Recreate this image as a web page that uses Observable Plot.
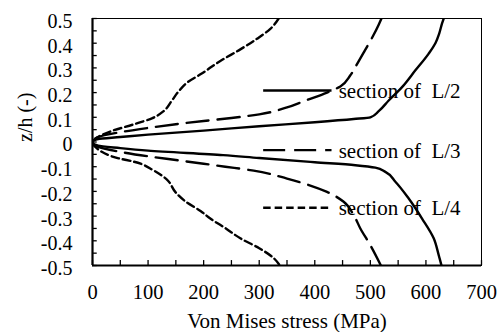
<!DOCTYPE html>
<html><head><meta charset="utf-8">
<script src="https://cdn.jsdelivr.net/npm/d3@7"></script>
<script src="https://cdn.jsdelivr.net/npm/@observablehq/plot@0.6"></script>
<style>
body{margin:0;background:#fff}
#chart svg{display:block}
#chart svg text{font-family:"Liberation Serif","Times New Roman",serif !important;fill:#000}
</style>
</head><body><div id="chart"></div>
<script>
// tick labels
const xTicks = [0, 100, 200, 300, 400, 500, 600, 700];
const yTicks = [-0.5, -0.4, -0.3, -0.2, -0.1, 0, 0.1, 0.2, 0.3, 0.4, 0.5];

// section of L/2 (solid)
const l2Stress = [632, 629, 624, 617, 605, 581, 557, 533, 515, 500, 470, 400, 300, 200, 100, 50, 10, 0, 10, 50, 100, 235, 300, 400, 473, 509, 527, 545, 569, 593, 614, 623, 628];
const l2Z = [0.5, 0.48, 0.44, 0.40, 0.358, 0.29, 0.222, 0.168, 0.125, 0.1, 0.093, 0.08, 0.064, 0.046, 0.03, 0.02, 0.012, 0, -0.015, -0.025, -0.035, -0.053, -0.065, -0.082, -0.094, -0.104, -0.121, -0.161, -0.229, -0.31, -0.39, -0.458, -0.5];

// section of L/3 (long dash)
const l3Stress = [520, 515, 505, 490, 476, 464, 446, 422, 380, 350, 300, 250, 200, 150, 100, 50, 10, 0, 10, 50, 100, 150, 200, 239, 290, 350, 422, 452, 470, 482, 500, 519];
const l3Z = [0.5, 0.475, 0.43, 0.37, 0.315, 0.27, 0.225, 0.2, 0.165, 0.14, 0.112, 0.097, 0.085, 0.072, 0.057, 0.04, 0.02, 0, -0.02, -0.04, -0.058, -0.073, -0.088, -0.1, -0.116, -0.148, -0.202, -0.242, -0.296, -0.35, -0.418, -0.5];

// section of L/4 (short dash)
const l4Stress = [335, 320, 296, 266, 230, 195, 170, 155, 142, 128, 108, 75, 35, 5, 0, 10, 47, 75, 110, 133, 150, 168, 195, 212, 240, 266, 300, 326, 337];
const l4Z = [0.5, 0.458, 0.418, 0.375, 0.328, 0.275, 0.24, 0.205, 0.165, 0.125, 0.097, 0.072, 0.045, 0.013, 0, -0.03, -0.066, -0.08, -0.115, -0.15, -0.205, -0.242, -0.28, -0.31, -0.35, -0.39, -0.43, -0.47, -0.5];

const sectionLabels = ["section of\u00a0 L/2", "section of\u00a0 L/3", "section of\u00a0 L/4"];
const xTitle = "Von Mises stress (MPa)";
const yTitle = "z/h (-)";

const FONT = "'Liberation Serif', 'Times New Roman', serif";
const dashes = [null, "22,9", "7.5,4"];
const series = [[l2Stress, l2Z], [l3Stress, l3Z], [l4Stress, l4Z]]
  .map(([s, z]) => s.map((v, i) => ({s: v, z: z[i]})));

// legend layout (inside plot area)
const legendY = [0.2085, -0.033, -0.266];
const legendX1 = 308, legendX2 = 431, legendTextX = 443;

const W = 498, H = 332;
const marks = [];
// inward ticks
marks.push(Plot.ruleY(d3.range(-0.5, 0.5001, 0.05), {y: d => d, x1: 0, x2: 8.5, stroke: "#000", strokeWidth: 1.3}));
marks.push(Plot.ruleX(d3.range(0, 701, 50), {x: d => d, y1: -0.5, y2: -0.48, stroke: "#000", strokeWidth: 1.3}));
marks.push(Plot.frame({stroke: "#000", strokeWidth: 1}));
marks.push(Plot.ruleX([0], {stroke: "#000", strokeWidth: 2.2}));
marks.push(Plot.ruleY([-0.5], {stroke: "#000", strokeWidth: 2.2}));
series.forEach((data, i) => {
  marks.push(Plot.line(data, {x: "s", y: "z", stroke: "#000", strokeWidth: 2.4, curve: "monotone-y",
    strokeDasharray: dashes[i] || undefined, clip: true}));
});
sectionLabels.forEach((lab, i) => {
  marks.push(Plot.ruleY([legendY[i]], {y: d => d, x1: legendX1, x2: legendX2, stroke: "#000", strokeWidth: 2.4,
    strokeDasharray: dashes[i] || undefined}));
});
marks.push(Plot.text(sectionLabels, {x: legendTextX, y: (d, i) => legendY[i], text: d => d, textAnchor: "start",
  lineAnchor: "middle", fontSize: 21, dy: 1, fill: "#000", fontFamily: FONT}));
marks.push(Plot.axisX({ticks: xTicks, tickSize: 0, tickPadding: 19, fontSize: 20.5, label: null, fontFamily: FONT,
  tickFormat: d => String(d)}));
marks.push(Plot.axisY({ticks: yTicks, tickSize: 0, tickPadding: 20, fontSize: 20, label: null, dy: 3, fontFamily: FONT,
  tickFormat: d => d === 0 ? "0" : d.toFixed(1)}));
marks.push(Plot.text([xTitle], {text: d => d, frameAnchor: "bottom", dy: 62, lineAnchor: "bottom", fontSize: 21, fill: "#000", fontFamily: FONT}));
marks.push(Plot.text([yTitle], {text: d => d, frameAnchor: "left", dx: -67, rotate: -90, lineAnchor: "middle", fontSize: 20, fill: "#000", fontFamily: FONT}));

const chart = Plot.plot({
  width: W, height: H,
  marginLeft: 92, marginRight: 17, marginTop: 18, marginBottom: 67,
  x: {domain: [0, 700]},
  y: {domain: [-0.5, 0.5]},
  style: {fontFamily: FONT, fontSize: "20px", color: "#000", background: "#fff"},
  marks
});
document.getElementById("chart").append(chart);
</script>
</body></html>
